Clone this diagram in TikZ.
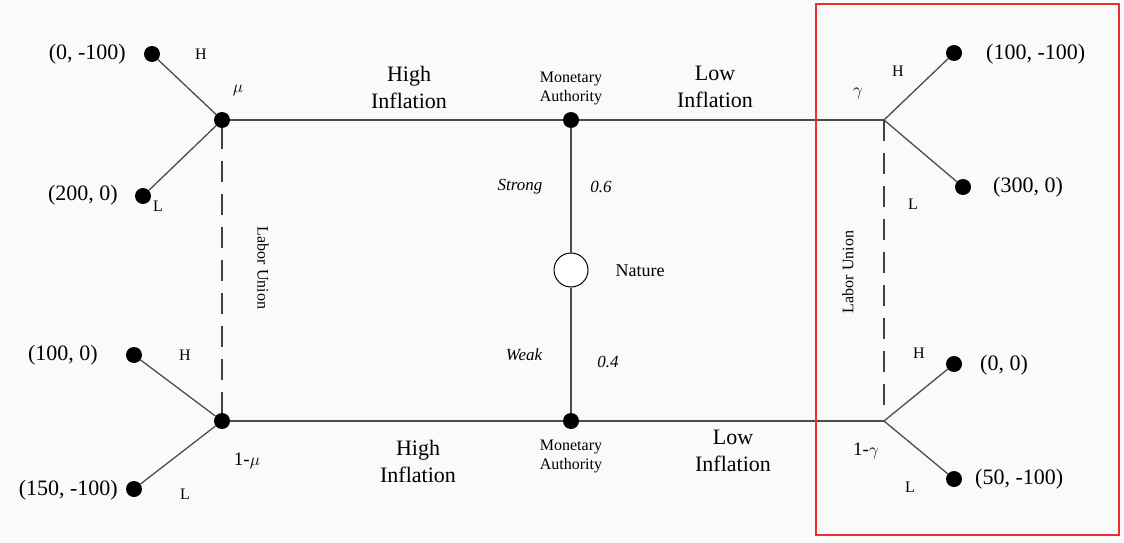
\documentclass[tikz,border=0pt]{standalone}
\usepackage{fontspec}
\setmainfont{Liberation Serif}
\begin{document}
\begin{tikzpicture}[x=1pt,y=-1pt,
  dot/.style={circle,fill=black,inner sep=0pt,minimum size=16pt},
  edge/.style={draw=black!70,line width=1.3pt},
  dash line/.style={draw=black!75,line width=1.3pt,dash pattern=on 21pt off 12pt},
  big/.style={font=\fontsize{22}{27}\selectfont,align=center,inner sep=0pt},
  pay/.style={font=\fontsize{22}{26}\selectfont,inner sep=0pt},
  small/.style={font=\fontsize{16}{19}\selectfont,align=center,inner sep=0pt},
  sml/.style={font=\fontsize{17}{20}\selectfont\itshape,inner sep=0pt},
  greek/.style={font=\fontsize{19}{22}\selectfont,inner sep=0pt}]
\useasboundingbox[fill=black!2] (0,0) rectangle (1124,543);
% decision nodes
\node[dot] (lt) at (222,120) {};
\node[dot] (lb) at (222,421) {};
\node[dot] (mt) at (571,120) {};
\node[dot] (mb) at (571,421) {};
\node[circle,draw=black,line width=1pt,fill=white,minimum size=34pt,inner sep=0pt] (nat) at (571,270) {};
\coordinate (rt) at (884,120);
\coordinate (rb) at (884,421);
% leaves
\node[dot] (l1) at (152,54) {};
\node[dot] (l2) at (143,196) {};
\node[dot] (l3) at (134,355) {};
\node[dot] (l4) at (134,489) {};
\node[dot] (r1) at (954,53) {};
\node[dot] (r2) at (963,187) {};
\node[dot] (r3) at (954,364) {};
\node[dot] (r4) at (954,479) {};
% edges
\draw[edge] (lt) -- (mt) -- (rt);
\draw[edge] (lb) -- (mb) -- (rb);
\draw[edge] (mt) -- (nat) -- (mb);
\draw[edge] (lt) -- (l1);
\draw[edge] (lt) -- (l2);
\draw[edge] (lb) -- (l3);
\draw[edge] (lb) -- (l4);
\draw[edge] (rt) -- (r1);
\draw[edge] (rt) -- (r2);
\draw[edge] (rb) -- (r3);
\draw[edge] (rb) -- (r4);
\draw[dash line] (lt) -- (lb);
\draw[dash line,shorten >=6pt] (rt) -- (rb);
% payoffs
\node[pay,anchor=east] (p1) at (126,54) {(0, -100)};
\node[pay,anchor=east] (p2) at (118,195) {(200, 0)};
\node[pay,anchor=east] (p3) at (98,355) {(100, 0)};
\node[pay,anchor=east] (p4) at (118,490) {(150, -100)};
\node[pay,anchor=west] (q1) at (986,54) {(100, -100)};
\node[pay,anchor=west] (q2) at (993,187) {(300, 0)};
\node[pay,anchor=west] (q3) at (980,365) {(0, 0)};
\node[pay,anchor=west] (q4) at (975,479) {(50, -100)};
% H / L labels
\node[small] (h1) at (201,54) {H};
\node[small] (ll1) at (158,206) {L};
\node[small] (h2) at (185,355) {H};
\node[small] (ll2) at (185,494) {L};
\node[small] (h3) at (898,71) {H};
\node[small] (ll3) at (913,204) {L};
\node[small] (h4) at (919,353) {H};
\node[small] (ll4) at (910,487) {L};
% beliefs
\node[greek] (mu) at (238,90) {$\mu$};
\node[greek] (mu1) at (247,461) {1-$\mu$};
\node[greek] (ga) at (858,93) {$\gamma$};
\node[greek] (ga1) at (866,451) {1-$\gamma$};
% actions
\node[big] (hi1) at (409,87) {High\\Inflation};
\node[big] (lo1) at (715,87) {Low\\Inflation};
\node[big] (hi2) at (418,461) {High\\Inflation};
\node[big] (lo2) at (733,451) {Low\\Inflation};
\node[small] (ma1) at (571,88) {Monetary\\Authority};
\node[small] (ma2) at (571,456) {Monetary\\Authority};
% nature
\node[sml] (st) at (520,187) {Strong};
\node[sml] (p6) at (601,187) {0.6};
\node[sml] (wk) at (524,355) {Weak};
\node[sml] (p4b) at (608,362) {0.4};
\node[pay,font=\fontsize{18}{22}\selectfont] (natl) at (640,271) {Nature};
% labor union
\node[small,rotate=-90] (lu1) at (263,268) {Labor Union};
\node[small,rotate=90] (lu2) at (848,272) {Labor Union};
% highlight box
\node[draw={rgb,255:red,232;green,48;blue,47},line width=1.6pt,minimum width=303pt,minimum height=531pt,inner sep=0pt] (box) at (967.5,269.5) {};
\end{tikzpicture}
\end{document}
